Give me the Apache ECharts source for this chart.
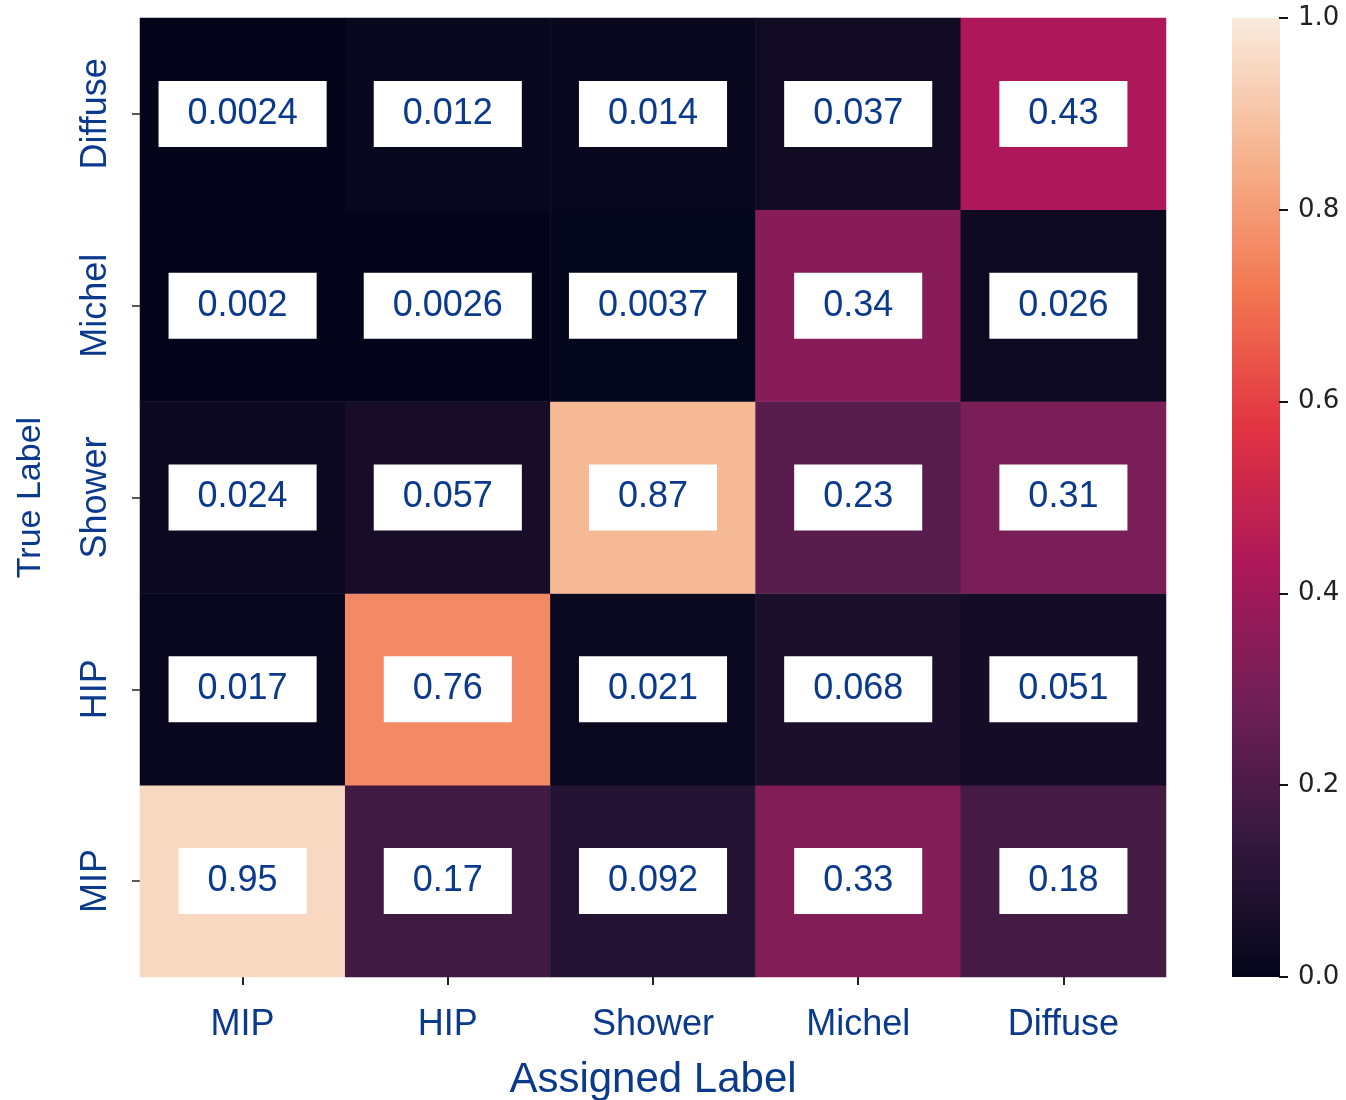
<!DOCTYPE html>
<html>
<head>
<meta charset="utf-8">
<title>Confusion matrix</title>
<script src="https://cdn.jsdelivr.net/npm/echarts@6/dist/echarts.min.js"></script>
<style>
  html, body { margin: 0; padding: 0; background: #ffffff; }
  #chart { width: 1346px; height: 1100px; }
</style>
</head>
<body>
<div id="chart"></div>
<script>
// Class names along both axes (y axis is listed bottom-to-top)
const assignedLabels = ['MIP', 'HIP', 'Shower', 'Michel', 'Diffuse'];
const trueLabels = ['MIP', 'HIP', 'Shower', 'Michel', 'Diffuse'];

// Fractions per true class, one array per row
const rowMIP     = [0.95, 0.17, 0.092, 0.33, 0.18];
const rowHIP     = [0.017, 0.76, 0.021, 0.068, 0.051];
const rowShower  = [0.024, 0.057, 0.87, 0.23, 0.31];
const rowMichel  = [0.002, 0.0026, 0.0037, 0.34, 0.026];
const rowDiffuse = [0.0024, 0.012, 0.014, 0.037, 0.43];

// Colour bar ticks
const colorbarTicks = ['0.0', '0.2', '0.4', '0.6', '0.8', '1.0'];

// "rocket" colour map, evenly spaced stops
const rocket = ['#03051a', '#35193e', '#701f57', '#ad1759', '#e13342', '#f37651', '#f6b48f', '#faebdd'];

const rows = [rowMIP, rowHIP, rowShower, rowMichel, rowDiffuse];
const cells = [];
rows.forEach((row, yi) => row.forEach((v, xi) => cells.push([xi, yi, v])));

const blue = '#0b3a8c';
const chart = echarts.init(document.getElementById('chart'), null, { renderer: 'canvas' });

// Colour bar geometry (right of the matrix)
const cbar = { left: 1232, top: 18, width: 48, height: 959 };

// Gradient for the colour bar: value 0 at the bottom, 1 at the top
const cbarStops = rocket.map((c, i) => ({ offset: 1 - i / (rocket.length - 1), color: c })).reverse();

chart.setOption({
  animation: false,
  backgroundColor: '#ffffff',
  textStyle: { fontFamily: 'Liberation Sans, Arial, sans-serif' },
  grid: [
    { left: 140, top: 18, width: 1026, height: 959, outerBoundsMode: 'none', containLabel: false },
    // thin strip on the colour bar's right edge carrying its scale
    { left: cbar.left + cbar.width - 1, top: cbar.top, width: 1, height: cbar.height, outerBoundsMode: 'none', containLabel: false }
  ],
  graphic: [
    {
      type: 'rect',
      left: cbar.left,
      top: cbar.top,
      z: 0,
      shape: { width: cbar.width, height: cbar.height },
      style: { fill: new echarts.graphic.LinearGradient(0, 0, 0, 1, cbarStops) },
      silent: true
    }
  ],
  xAxis: [
    {
      gridIndex: 0,
      type: 'category',
      data: assignedLabels,
      position: 'bottom',
      name: 'Assigned Label',
      nameLocation: 'middle',
      nameGap: 82,
      nameTextStyle: { color: blue, fontSize: 42, fontFamily: 'Liberation Sans' },
      axisLine: { show: false },
      axisTick: { show: true, alignWithLabel: true, length: 8, lineStyle: { color: '#222', width: 2 } },
      axisLabel: { color: blue, fontSize: 36, margin: 30, fontFamily: 'Liberation Sans' },
      splitLine: { show: false }
    },
    {
      gridIndex: 1,
      type: 'value',
      show: false,
      min: 0,
      max: 1
    }
  ],
  yAxis: [
    {
      gridIndex: 0,
      type: 'category',
      data: trueLabels,
      name: 'True Label',
      nameLocation: 'middle',
      nameGap: 92,
      nameRotate: 90,
      nameTextStyle: { color: blue, fontSize: 34, fontFamily: 'Liberation Sans' },
      axisLine: { show: false },
      axisTick: { show: true, alignWithLabel: true, length: 8, lineStyle: { color: '#222', width: 1.5 } },
      axisLabel: { color: blue, fontSize: 36, margin: 26, rotate: 90, fontFamily: 'Liberation Sans' },
      splitLine: { show: false }
    },
    {
      gridIndex: 1,
      type: 'value',
      position: 'right',
      min: 0,
      max: 1,
      interval: 0.2,
      axisLine: { show: false },
      axisTick: { show: true, inside: false, length: 9, lineStyle: { color: '#111', width: 2 } },
      axisLabel: {
        color: '#222', fontSize: 26, margin: 18, fontFamily: 'DejaVu Sans',
        formatter: (v) => colorbarTicks[Math.round(v * 5)]
      },
      splitLine: { show: false }
    }
  ],
  visualMap: {
    type: 'continuous',
    show: false,
    min: 0,
    max: 1,
    seriesIndex: 0,
    inRange: { color: rocket }
  },
  series: [
    {
      type: 'heatmap',
      xAxisIndex: 0,
      yAxisIndex: 0,
      data: cells,
      label: {
        show: true,
        formatter: (p) => String(p.value[2]),
        color: blue,
        fontSize: 36,
        fontFamily: 'Liberation Sans',
        backgroundColor: '#ffffff',
        padding: [15, 29]
      },
      itemStyle: { borderWidth: 0 },
      emphasis: { disabled: true }
    }
  ]
});
</script>
</body>
</html>
